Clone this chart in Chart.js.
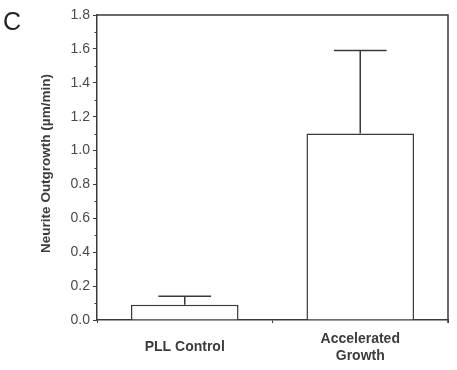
<!DOCTYPE html>
<html>
<head>
<meta charset="utf-8">
<script src="https://cdn.jsdelivr.net/npm/chart.js@4.4.0/dist/chart.umd.min.js"></script>
<style>
  html, body { margin: 0; padding: 0; background: #ffffff; }
  #wrap { position: relative; width: 457px; height: 370px; }
</style>
</head>
<body>
<div id="wrap"><canvas id="c" width="457" height="370"></canvas></div>
<script>
const categories = [['PLL Control'], ['Accelerated', 'Growth']];
const means = [0.09, 1.10];
const errorTops = [0.14, 1.59];
const yTicks = [0.0, 0.2, 0.4, 0.6, 0.8, 1.0, 1.2, 1.4, 1.6, 1.8];
const minorTicks = [0.1, 0.3, 0.5, 0.7, 0.9, 1.1, 1.3, 1.5, 1.7];
const yTitle = 'Neurite Outgrowth (\u00b5m/min)';
const panelLetter = 'C';

const INK = '#3a3a3a';
const TXT = '#3c3c3c';

const decor = {
  id: 'decor',
  afterDatasetsDraw(chart) {
    const ctx = chart.ctx;
    const ca = chart.chartArea;
    const ys = chart.scales.y;
    ctx.save();
    const meta = chart.getDatasetMeta(0);
    ctx.strokeStyle = INK;
    ctx.lineWidth = 1.5;
    meta.data.forEach((bar, i) => {
      const x = bar.x;
      const yTop = ys.getPixelForValue(errorTops[i]);
      const yMean = ys.getPixelForValue(means[i]);
      const capHalf = bar.width * 0.245;
      ctx.beginPath();
      ctx.moveTo(x, yMean);
      ctx.lineTo(x, yTop);
      ctx.moveTo(x - capHalf, yTop);
      ctx.lineTo(x + capHalf, yTop);
      ctx.stroke();
    });
    ctx.lineWidth = 1.5;
    ctx.beginPath();
    ctx.moveTo(ca.left, ca.top);
    ctx.lineTo(ca.right, ca.top);
    ctx.lineTo(ca.right, ca.bottom + 3);
    ctx.stroke();
    ctx.lineWidth = 1;
    minorTicks.forEach(v => {
      const y = Math.round(ys.getPixelForValue(v)) + 0.5;
      ctx.beginPath();
      ctx.moveTo(ca.left - 2.5, y);
      ctx.lineTo(ca.left, y);
      ctx.stroke();
    });
    ctx.fillStyle = TXT;
    ctx.font = 'bold 13.5px "Liberation Sans", Arial, sans-serif';
    ctx.textAlign = 'center';
    ctx.textBaseline = 'middle';
    ctx.translate(46, 163.5);
    ctx.rotate(-Math.PI / 2);
    ctx.fillText(yTitle, 0, 0);
    ctx.restore();
    ctx.save();
    ctx.fillStyle = '#222';
    ctx.font = '25px "Liberation Sans", Arial, sans-serif';
    ctx.textAlign = 'left';
    ctx.textBaseline = 'alphabetic';
    ctx.fillText(panelLetter, 3, 30);
    ctx.restore();
  }
};

new Chart(document.getElementById('c'), {
  type: 'bar',
  data: {
    labels: categories,
    datasets: [{
      data: means,
      backgroundColor: '#ffffff',
      borderColor: INK,
      borderWidth: 1.5,
      barPercentage: 0.613,
      categoryPercentage: 1.0
    }]
  },
  options: {
    responsive: false,
    animation: false,
    devicePixelRatio: 1,
    layout: { padding: { top: 15, right: 9, left: 0, bottom: 0 } },
    plugins: { legend: { display: false }, tooltip: { enabled: false } },
    scales: {
      x: {
        offset: true,
        grid: { display: true, drawOnChartArea: false, offset: true, tickLength: 3, color: INK, lineWidth: 1 },
        border: { display: true, color: INK, width: 1.5 },
        ticks: {
          color: TXT,
          font: { family: '"Liberation Sans", Arial, sans-serif', size: 14, weight: 'bold', lineHeight: 1.2 },
          crossAlign: 'center',
          padding: 16,
          maxRotation: 0
        },
        afterFit(s) { s.height = 50; }
      },
      y: {
        min: 0, max: 1.8,
        afterBuildTicks(s) { s.ticks = yTicks.map(v => ({ value: v })); },
        grid: { display: true, drawOnChartArea: false, tickLength: 4, color: INK, lineWidth: 1 },
        border: { display: true, color: INK, width: 1.5 },
        ticks: {
          color: '#4a4a4a',
          font: { family: '"Liberation Sans", Arial, sans-serif', size: 14 },
          padding: 3,
          callback: v => Number(v).toFixed(1)
        },
        afterFit(s) { s.width = 97; }
      }
    }
  },
  plugins: [decor]
});
</script>
</body>
</html>
